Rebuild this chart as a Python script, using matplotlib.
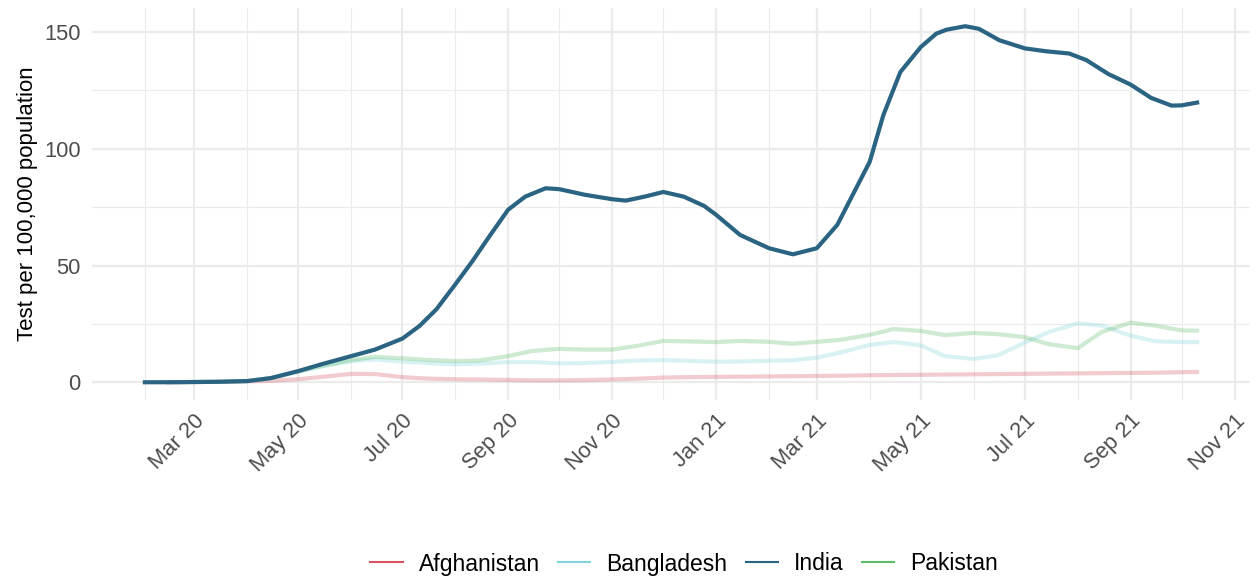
import numpy as np
import pandas as pd
import matplotlib
matplotlib.use("Agg")
from matplotlib import pyplot as plt

plt.rcParams['font.family'] = ['Liberation Sans', 'DejaVu Sans']

# India (denser where the curve bends)
dates_india = ["2020-02-01", "2020-02-15", "2020-03-01", "2020-03-15", "2020-04-01", "2020-04-15",
               "2020-05-01", "2020-05-15", "2020-06-01", "2020-06-15", "2020-07-01", "2020-07-11",
               "2020-07-21", "2020-08-01", "2020-08-11", "2020-08-21", "2020-09-01", "2020-09-11",
               "2020-09-23", "2020-10-01", "2020-10-16", "2020-11-01", "2020-11-09", "2020-11-20",
               "2020-12-01", "2020-12-13", "2020-12-25", "2021-01-01", "2021-01-15", "2021-02-01",
               "2021-02-15", "2021-03-01", "2021-03-13", "2021-03-22", "2021-04-01", "2021-04-09",
               "2021-04-19", "2021-05-01", "2021-05-10", "2021-05-16", "2021-05-27", "2021-06-04",
               "2021-06-16", "2021-07-01", "2021-07-13", "2021-07-27", "2021-08-06", "2021-08-19",
               "2021-09-01", "2021-09-13", "2021-09-25", "2021-10-01", "2021-10-10"]
india = [0, 0, 0.1, 0.2, 0.5, 1.8,
         4.8, 7.8, 11.2, 14.0, 18.7, 24.1,
         31.3, 41.9, 51.8, 62.5, 73.9, 79.5,
         83.1, 82.7, 80.3, 78.4, 77.8, 79.5,
         81.5, 79.5, 75.5, 71.7, 63.1, 57.4,
         54.8, 57.4, 67.4, 80.2, 94.4, 114.4,
         132.9, 143.6, 149.3, 151.0, 152.5, 151.4,
         146.5, 143.0, 141.8, 140.8, 138.0, 132.0,
         127.5, 121.8, 118.5, 118.6, 119.8]

# the other three, semi-monthly readings
dates_other = ["2020-02-15", "2020-03-01", "2020-03-15", "2020-04-01", "2020-04-15",
               "2020-05-01", "2020-05-15", "2020-06-01", "2020-06-15", "2020-07-01", "2020-07-15",
               "2020-08-01", "2020-08-15", "2020-09-01", "2020-09-15", "2020-10-01", "2020-10-15",
               "2020-11-01", "2020-11-15", "2020-12-01", "2020-12-15", "2021-01-01", "2021-01-15",
               "2021-02-01", "2021-02-15", "2021-03-01", "2021-03-15", "2021-04-01", "2021-04-15",
               "2021-05-01", "2021-05-15", "2021-06-01", "2021-06-15", "2021-07-01", "2021-07-15",
               "2021-08-01", "2021-08-15", "2021-09-01", "2021-09-15", "2021-10-01", "2021-10-10"]

afghanistan = [0, 0.1, 0.2, 0.4, 0.6, 1.3, 2.3, 3.6, 3.5, 2.2, 1.6,
               1.3, 1.2, 1.0, 0.8, 0.8, 0.9, 1.2, 1.5, 2.0, 2.2,
               2.3, 2.4, 2.5, 2.6, 2.7, 2.8, 3.0, 3.1, 3.2, 3.3,
               3.4, 3.5, 3.6, 3.7, 3.8, 3.9, 4.0, 4.1, 4.3, 4.4]

bangladesh = [0, 0.1, 0.2, 0.5, 1.8, 4.5, 6.8, 9.0, 9.8, 8.8, 8.3,
              7.7, 8.0, 8.6, 8.6, 8.1, 8.2, 8.7, 9.3, 9.5, 9.2,
              8.8, 8.9, 9.2, 9.4, 10.5, 12.8, 16.0, 17.2, 15.8, 11.2,
              10.0, 11.5, 17.0, 21.5, 25.2, 24.3, 20.0, 17.6, 17.2, 17.2]

pakistan = [0, 0.1, 0.2, 0.5, 1.8, 4.6, 7.0, 9.5, 10.9, 10.3, 9.6,
            9.1, 9.3, 11.2, 13.4, 14.3, 14.0, 14.0, 15.5, 17.7, 17.5,
            17.2, 17.7, 17.3, 16.5, 17.3, 18.2, 20.3, 22.8, 22.0, 20.2,
            21.1, 20.6, 19.3, 16.3, 14.6, 21.5, 25.5, 24.3, 22.2, 22.1]

countries = ["Afghanistan", "Bangladesh", "India", "Pakistan"]
colors = {"Afghanistan": "#D6545F", "Bangladesh": "#7FD6DA",
          "India": "#2A6482", "Pakistan": "#5DBB6A"}
series = {"Afghanistan": (dates_other, afghanistan),
          "Bangladesh": (dates_other, bangladesh),
          "India": (dates_india, india),
          "Pakistan": (dates_other, pakistan)}

tick_dates = ["2020-03-01", "2020-05-01", "2020-07-01", "2020-09-01", "2020-11-01", "2021-01-01",
              "2021-03-01", "2021-05-01", "2021-07-01", "2021-09-01", "2021-11-01"]
tick_labels = ["Mar 20", "May 20", "Jul 20", "Sep 20", "Nov 20", "Jan 21",
               "Mar 21", "May 21", "Jul 21", "Sep 21", "Nov 21"]
minor_dates = ["2020-02-01", "2020-04-01", "2020-06-01", "2020-08-01", "2020-10-01", "2020-12-01",
               "2021-02-01", "2021-04-01", "2021-06-01", "2021-08-01", "2021-10-01"]

fig = plt.figure(figsize=(1259 / 150, 579 / 150), dpi=150)
ax = fig.add_axes([92 / 1259, 1 - 400 / 579, (1250 - 92) / 1259, (400 - 8) / 579])

for c in countries:
    d, v = series[c]
    a = 1.0 if c == "India" else 0.3
    ax.plot(pd.to_datetime(d), v, color=colors[c], lw=2.0, alpha=a,
            solid_joinstyle="round", zorder=3 if c == "India" else 2)

ax.set_xlim(pd.Timestamp("2020-01-01"), pd.Timestamp("2021-11-10"))
ax.set_ylim(-7.6, 160.3)

ax.set_xticks(pd.to_datetime(tick_dates))
ax.set_xticklabels(tick_labels)
ax.set_xticks(pd.to_datetime(minor_dates), minor=True)
ax.set_yticks([0, 50, 100, 150])
ax.set_yticks([25, 75, 125], minor=True)

ax.grid(which="major", color="#EBEBEB", lw=1.07)
ax.grid(which="minor", color="#EBEBEB", lw=0.53)
ax.set_axisbelow(True)
for s in ax.spines.values():
    s.set_visible(False)
ax.tick_params(which="both", length=0)
ax.tick_params(axis="y", labelsize=10.5, labelcolor="#4D4D4D", pad=5.5)
ax.tick_params(axis="x", labelsize=10.5, labelcolor="#4D4D4D", pad=5)
for lab in ax.get_xticklabels():
    lab.set_rotation(45)
    lab.set_ha("right")
    lab.set_rotation_mode("anchor")

ax.set_ylabel("Test per 100,000 population", fontsize=10.7, color="black", labelpad=2.8)

handles = [plt.Line2D([], [], color=colors[c], lw=1.0) for c in countries]
fig.legend(handles, countries, loc="center", bbox_to_anchor=(684 / 1259, 1 - 564 / 579),
           ncol=4, frameon=False, fontsize=11, handlelength=1.4,
           handletextpad=0.7, columnspacing=0.8)

fig.savefig("out.png", dpi=150)
